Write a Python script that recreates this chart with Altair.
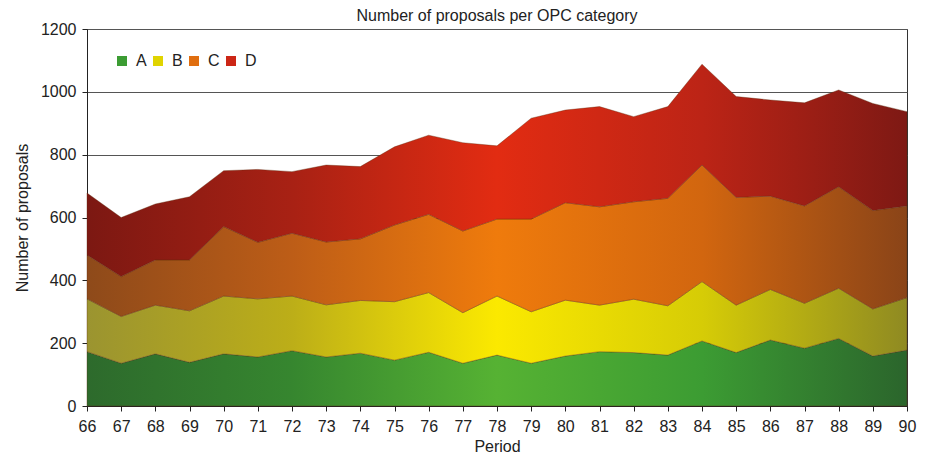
import altair as alt
import pandas as pd

periods = list(range(66, 91))
series_names = ["A", "B", "C", "D"]
A = [173, 136, 166, 139, 166, 156, 176, 156, 168, 146, 171, 136, 162, 136, 159, 173, 170, 162, 207, 170, 210, 184, 215, 159, 178]
B = [168, 149, 155, 164, 184, 185, 174, 166, 168, 186, 190, 161, 188, 164, 178, 148, 170, 157, 189, 151, 161, 143, 160, 150, 167]
C = [140, 127, 144, 162, 221, 180, 200, 200, 196, 244, 249, 260, 245, 295, 310, 313, 310, 342, 371, 343, 297, 310, 323, 313, 292]
D = [197, 188, 178, 201, 178, 232, 196, 245, 230, 249, 252, 281, 233, 321, 295, 319, 271, 292, 321, 321, 306, 328, 308, 341, 300]
y_ticks = [0, 200, 400, 600, 800, 1000, 1200]

# gradient stops per series: left edge, quarter, middle, three-quarter, right edge
grad_colors = {
    "A": ["#2d6a2c", "#36862f", "#56b233", "#3c9c33", "#2b652c"],
    "B": ["#9b9430", "#bcae18", "#fbe900", "#d6cc06", "#8f8a22"],
    "C": ["#8e4a1a", "#bd5d17", "#ef7b0c", "#d2660f", "#8a4418"],
    "D": ["#7c1812", "#a82114", "#e22c12", "#bc2416", "#7e1914"],
}
legend_colors = ["#3c9c33", "#e0d400", "#e06e0f", "#cc2616"]

rows = []
for name, vals in zip(series_names, [A, B, C, D]):
    for p, v in zip(periods, vals):
        rows.append({"period": p, "series": name, "value": v, "order": series_names.index(name)})
df = pd.DataFrame(rows)

FONT = "Liberation Sans"

base = alt.Chart(df).transform_stack(
    stack="value", groupby=["period"], as_=["y0", "y1"], sort=[alt.SortField("order", order="ascending")]
)

x_enc = alt.X(
    "period:Q",
    scale=alt.Scale(domain=[66, 90], nice=False, zero=False),
    axis=alt.Axis(values=periods, format="d", title="Period", grid=False,
                  labelOverlap=False, labelFlush=False),
)
y_enc = alt.Y(
    "y1:Q",
    scale=alt.Scale(domain=[0, 1200], nice=False),
    axis=alt.Axis(values=y_ticks, format="d", title="Number of proposals", grid=True),
)

layers = []
for name in series_names:
    cols = grad_colors[name]
    grad = alt.Gradient(
        gradient="linear",
        stops=[alt.GradientStop(color=c, offset=o) for c, o in zip(cols, [0, 0.25, 0.5, 0.75, 1])],
        x1=0, x2=1, y1=0, y2=0,
    )
    layers.append(
        base.transform_filter(alt.datum.series == name)
        .mark_area(fill=grad, stroke="#5a2a0a", strokeWidth=0.6, strokeOpacity=0.6, line=False)
        .encode(x=x_enc, y=y_enc, y2="y0:Q")
    )

legend_layer = base.mark_square(opacity=0).encode(
    x=x_enc,
    y=y_enc,
    color=alt.Color(
        "series:N",
        scale=alt.Scale(domain=series_names, range=legend_colors),
        legend=alt.Legend(
            title=None,
            orient="none",
            legendX=27,
            legendY=24,
            direction="horizontal",
            symbolType="square",
            symbolSize=100,
            symbolOpacity=1,
            symbolStrokeWidth=0,
            labelFontSize=16,
            labelFont=FONT,
            labelColor="#222",
            labelOffset=6,
            columnPadding=3,
        ),
    ),
)

chart = (
    alt.layer(*layers, legend_layer)
    .properties(
        width=820,
        height=377,
        padding={"left": 6, "top": 0, "right": 5, "bottom": 0},
        title=alt.TitleParams(
            "Number of proposals per OPC category",
            fontSize=16, fontWeight="normal", font=FONT, color="#222", offset=-3,
        ),
    )
    .configure_view(stroke="#333", strokeWidth=1)
    .configure_axis(
        labelFont=FONT, titleFont=FONT, labelFontSize=16, titleFontSize=16,
        titleFontWeight="normal", labelColor="#222", titleColor="#222",
        domainColor="#222", tickColor="#222", gridColor="#555", gridWidth=1.2,
        tickSize=5,
    )
    .configure_axisY(labelPadding=6, titlePadding=10)
    .configure_axisX(labelPadding=7, titlePadding=4, labelFontSize=16)
)

chart.save("out.html", embed_options={"renderer": "svg", "actions": False})
